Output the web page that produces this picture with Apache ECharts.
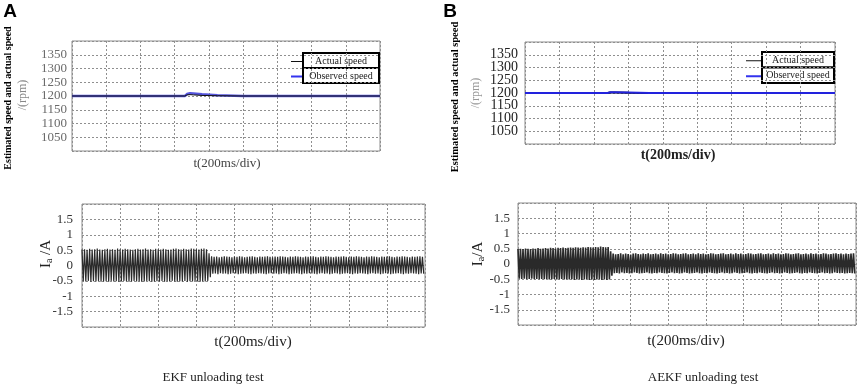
<!DOCTYPE html>
<html>
<head>
<meta charset="utf-8">
<script src="https://cdn.jsdelivr.net/npm/echarts@6/dist/echarts.min.js"></script>
<style>html,body{margin:0;padding:0;background:#fff}#c{width:858px;height:387px}</style>
</head>
<body>
<div id="c"></div>
<script>
// ---- time axis (ms), 9 divisions of 200 ms ----
var timeMin = 0, timeMax = 1800, timeDiv = 200;
var speedTicks = [1050, 1100, 1150, 1200, 1250, 1300, 1350];
var currentTicks = [-1.5, -1, -0.5, 0, 0.5, 1, 1.5];

// ---- speed traces (rpm) ----
var ekfSpeedTime     = [0, 660, 672, 690, 710, 760, 850, 1000, 1800];
var ekfActualSpeed   = [1200, 1200, 1204, 1205, 1204, 1202, 1201, 1200, 1200];
var ekfObservedSpeed = [1200, 1200, 1207, 1210, 1209, 1206, 1203, 1200, 1200];

var aekfSpeedTime     = [0, 480, 495, 520, 600, 720, 1800];
var aekfActualSpeed   = [1200, 1200, 1202, 1202, 1201, 1200, 1200];
var aekfObservedSpeed = [1200, 1200, 1203, 1203, 1202, 1200, 1200];

// ---- phase current Ia (A): positive / negative peak of each cycle (15 cycles per div) ----
var ekfPosPeaks = [
0.52,0.53,0.51,0.54,0.52,0.53,0.55,0.52,0.51,0.53,
0.54,0.52,0.53,0.51,0.55,0.53,0.52,0.54,0.53,0.52,
0.51,0.53,0.54,0.52,0.53,0.55,0.52,0.53,0.51,0.54,
0.53,0.52,0.54,0.53,0.51,0.52,0.54,0.55,0.53,0.52,
0.54,0.53,0.52,0.55,0.54,0.53,0.52,0.54,0.55,0.53,
0.40,
0.30,0.28,0.29,0.27,0.28,0.30,0.29,0.28,0.27,0.29,
0.28,0.30,0.29,0.27,0.28,0.29,0.30,0.28,0.27,0.29,
0.28,0.29,0.30,0.28,0.27,0.29,0.28,0.30,0.29,0.28,
0.27,0.29,0.28,0.30,0.29,0.28,0.27,0.29,0.28,0.29,
0.30,0.28,0.27,0.29,0.28,0.30,0.29,0.28,0.27,0.29,
0.28,0.29,0.30,0.28,0.27,0.29,0.28,0.30,0.29,0.28,
0.27,0.29,0.28,0.30,0.29,0.28,0.27,0.29,0.28,0.29,
0.30,0.28,0.27,0.29,0.28,0.30,0.29,0.28,0.27,0.29,
0.28,0.29,0.30,0.28];
var ekfNegPeaks = [
-0.51,-0.52,-0.50,-0.53,-0.51,-0.52,-0.50,-0.53,-0.52,-0.51,
-0.53,-0.50,-0.52,-0.51,-0.53,-0.52,-0.50,-0.51,-0.53,-0.52,
-0.50,-0.52,-0.51,-0.53,-0.52,-0.50,-0.51,-0.53,-0.52,-0.51,
-0.52,-0.50,-0.53,-0.51,-0.52,-0.50,-0.52,-0.53,-0.51,-0.52,
-0.50,-0.53,-0.51,-0.52,-0.50,-0.52,-0.53,-0.51,-0.52,-0.50,
-0.38,
-0.27,-0.26,-0.28,-0.25,-0.27,-0.26,-0.28,-0.27,-0.25,-0.26,
-0.28,-0.27,-0.26,-0.25,-0.27,-0.28,-0.26,-0.27,-0.25,-0.26,
-0.27,-0.28,-0.26,-0.25,-0.27,-0.26,-0.28,-0.27,-0.25,-0.26,
-0.28,-0.27,-0.26,-0.25,-0.27,-0.28,-0.26,-0.27,-0.25,-0.26,
-0.27,-0.28,-0.26,-0.25,-0.27,-0.26,-0.28,-0.27,-0.25,-0.26,
-0.28,-0.27,-0.26,-0.25,-0.27,-0.28,-0.26,-0.27,-0.25,-0.26,
-0.27,-0.28,-0.26,-0.25,-0.27,-0.26,-0.28,-0.27,-0.25,-0.26,
-0.28,-0.27,-0.26,-0.25,-0.27,-0.28,-0.26,-0.27,-0.25,-0.26,
-0.27,-0.28,-0.26,-0.27];
var aekfPosPeaks = [
0.49,0.50,0.49,0.51,0.50,0.49,0.51,0.50,0.52,0.50,
0.51,0.52,0.51,0.53,0.52,0.51,0.53,0.52,0.54,0.52,
0.53,0.54,0.53,0.55,0.54,0.53,0.55,0.54,0.56,0.55,
0.54,0.56,0.55,0.57,0.56,0.55,0.56,
0.42,
0.34,0.32,0.33,0.35,0.32,0.34,0.33,0.31,0.34,0.35,
0.33,0.32,0.34,0.33,0.35,0.32,0.33,0.34,0.32,0.35,
0.33,0.34,0.32,0.33,0.35,0.34,0.32,0.33,0.34,0.35,
0.32,0.33,0.34,0.32,0.35,0.33,0.34,0.32,0.33,0.35,
0.34,0.32,0.33,0.34,0.35,0.32,0.33,0.34,0.32,0.35,
0.33,0.34,0.32,0.33,0.35,0.34,0.32,0.33,0.34,0.35,
0.32,0.33,0.34,0.32,0.35,0.33,0.34,0.32,0.33,0.35,
0.34,0.32,0.33,0.34,0.35,0.32,0.33,0.34,0.32,0.35,
0.33,0.34,0.32,0.33,0.35,0.34,0.32,0.33,0.34,0.35,
0.33,0.34,0.32,0.34,0.33,0.34,0.35];
var aekfNegPeaks = [
-0.48,-0.49,-0.48,-0.50,-0.49,-0.48,-0.50,-0.49,-0.50,-0.49,
-0.50,-0.49,-0.51,-0.50,-0.49,-0.51,-0.50,-0.49,-0.51,-0.50,
-0.51,-0.50,-0.52,-0.51,-0.50,-0.52,-0.51,-0.50,-0.52,-0.51,
-0.52,-0.51,-0.50,-0.52,-0.51,-0.52,-0.51,
-0.38,
-0.30,-0.29,-0.31,-0.28,-0.30,-0.29,-0.31,-0.30,-0.28,-0.29,
-0.31,-0.30,-0.29,-0.28,-0.30,-0.31,-0.29,-0.30,-0.28,-0.29,
-0.30,-0.31,-0.29,-0.28,-0.30,-0.29,-0.31,-0.30,-0.28,-0.29,
-0.31,-0.30,-0.29,-0.28,-0.30,-0.31,-0.29,-0.30,-0.28,-0.29,
-0.30,-0.31,-0.29,-0.28,-0.30,-0.29,-0.31,-0.30,-0.28,-0.29,
-0.31,-0.30,-0.29,-0.28,-0.30,-0.31,-0.29,-0.30,-0.28,-0.29,
-0.30,-0.31,-0.29,-0.28,-0.30,-0.29,-0.31,-0.30,-0.28,-0.29,
-0.31,-0.30,-0.29,-0.28,-0.30,-0.31,-0.29,-0.30,-0.28,-0.29,
-0.30,-0.31,-0.29,-0.28,-0.30,-0.29,-0.31,-0.30,-0.28,-0.29,
-0.30,-0.29,-0.31,-0.30,-0.29,-0.30,-0.31];

// ---- texts ----
var speedAxisTitle = 'Estimated speed and actual speed';
var speedUnit = '/(rpm)';
var timeTitle = 't(200ms/div)';
var legendNames = ['Actual speed', 'Observed speed'];
var captions = ['EKF unloading test', 'AEKF unloading test'];
var panelLetters = ['A', 'B'];

// ---------------------------------------------------------------
var SERIF = '"Liberation Serif","Times New Roman",serif';

function pairs(t, v) { return t.map(function (x, i) { return [x, v[i]]; }); }
function wave(pos, neg) {
  var n = pos.length, half = (timeMax - timeMin) / (2 * n), out = [];
  for (var i = 0; i < n; i++) {
    out.push([timeMin + (2 * i) * half, pos[i]]);
    out.push([timeMin + (2 * i + 1) * half, neg[i]]);
  }
  return out;
}
function plainNum(v) { return String(v); }

var grids = [
  {left: 72, top: 41, width: 308, height: 110},
  {left: 82, top: 204, width: 343, height: 123},
  {left: 525, top: 42, width: 310, height: 102},
  {left: 518, top: 203, width: 338, height: 122}
];
grids.forEach(function (g) { g.show = true; g.borderColor = '#8c8c8c'; g.borderWidth = 1; g.backgroundColor = '#fff'; });

var dotted = {show: true, lineStyle: {color: '#8f8f8f', width: 1, type: [2, 2]}};

function xAx(i) {
  return {type: 'value', gridIndex: i, min: timeMin, max: timeMax, interval: timeDiv,
    axisLabel: {show: false}, axisTick: {show: false}, axisLine: {show: false}, splitLine: dotted};
}
function yAx(i, min, max, interval, lbl) {
  return {type: 'value', gridIndex: i, min: min, max: max, interval: interval,
    axisTick: {show: false}, axisLine: {show: false}, splitLine: dotted,
    axisLabel: Object.assign({showMinLabel: false, showMaxLabel: false, fontFamily: SERIF, formatter: plainNum}, lbl)};
}

var option = {
  animation: false,
  backgroundColor: '#fff',
  grid: grids,
  xAxis: [xAx(0), xAx(1), xAx(2), xAx(3)],
  yAxis: [
    yAx(0, 1000, 1400, 50, {fontSize: 13, color: '#6a6a6a', margin: 5}),
    yAx(1, -2, 2, 0.5, {fontSize: 13, color: '#333', margin: 9}),
    yAx(2, 1000, 1400, 50, {fontSize: 14, color: '#222', margin: 7}),
    yAx(3, -2, 2, 0.5, {fontSize: 13, color: '#333', margin: 8})
  ],
  series: [
    {type: 'line', name: legendNames[1], xAxisIndex: 0, yAxisIndex: 0, data: pairs(ekfSpeedTime, ekfObservedSpeed),
      showSymbol: false, lineStyle: {color: '#5555dd', width: 2.5}, z: 2},
    {type: 'line', name: legendNames[0], xAxisIndex: 0, yAxisIndex: 0, data: pairs(ekfSpeedTime, ekfActualSpeed),
      showSymbol: false, lineStyle: {color: '#111', width: 1}, z: 3},
    {type: 'line', name: 'Ia EKF', xAxisIndex: 1, yAxisIndex: 1, data: wave(ekfPosPeaks, ekfNegPeaks),
      showSymbol: false, lineStyle: {color: '#2a2a2a', width: 1.2}, z: 2},
    {type: 'line', name: legendNames[0], xAxisIndex: 2, yAxisIndex: 2, data: pairs(aekfSpeedTime, aekfActualSpeed),
      showSymbol: false, lineStyle: {color: '#111', width: 2}, z: 2},
    {type: 'line', name: legendNames[1], xAxisIndex: 2, yAxisIndex: 2, data: pairs(aekfSpeedTime, aekfObservedSpeed),
      showSymbol: false, lineStyle: {color: '#2222dd', width: 2}, z: 3},
    {type: 'line', name: 'Ia AEKF', xAxisIndex: 3, yAxisIndex: 3, data: wave(aekfPosPeaks, aekfNegPeaks),
      showSymbol: false, lineStyle: {color: '#2a2a2a', width: 1.6}, z: 2}
  ],
  graphic: []
};

function txt(x, y, text, style, rot) {
  return {type: 'text', x: x, y: y, rotation: rot || 0, silent: true,
    style: Object.assign({text: text, align: 'center', verticalAlign: 'middle', fill: '#222', fontFamily: SERIF}, style)};
}
function legendBox(x0, y0, w, h, symX) {
  var items = [];
  for (var k = 0; k < 2; k++) {
    items.push({type: 'rect', silent: true, shape: {x: x0, y: y0 + k * h, width: w, height: h},
      style: {fill: '#fff', stroke: '#000', lineWidth: 2}});
    items.push(txt(x0 + w / 2, y0 + k * h + h / 2 + 0.5, legendNames[k], {fontSize: 10, fill: '#222'}));
    items.push({type: 'line', silent: true, shape: {x1: symX, y1: y0 + k * h + h / 2 + 1, x2: x0 - 1, y2: y0 + k * h + h / 2 + 1},
      style: {stroke: k === 0 ? '#111' : '#3333ee', lineWidth: k === 0 ? 1 : 2}});
  }
  return items;
}
var R = Math.PI / 2;
option.graphic = [].concat(
  [txt(10, 12, panelLetters[0], {fontFamily: '"Liberation Sans",Arial,sans-serif', fontWeight: 'bold', fontSize: 19, fill: '#000'}),
   txt(450, 12, panelLetters[1], {fontFamily: '"Liberation Sans",Arial,sans-serif', fontWeight: 'bold', fontSize: 19, fill: '#000'}),
   txt(8, 98, speedAxisTitle, {fontSize: 10, fontWeight: 'bold', fill: '#000'}, R),
   txt(23, 95, speedUnit, {fontSize: 12, fill: '#888'}, R),
   txt(455, 97, speedAxisTitle, {fontSize: 10.5, fontWeight: 'bold', fill: '#000'}, R),
   txt(476, 93, speedUnit, {fontSize: 12, fill: '#999'}, R),
   {type: 'text', x: 46, y: 254, rotation: R, silent: true, style: {
     text: '{i|I}{s|a}{i| /A}', align: 'center', verticalAlign: 'middle',
     rich: {i: {fontFamily: SERIF, fontSize: 15, fill: '#222'}, s: {fontFamily: SERIF, fontSize: 10, fill: '#222', padding: [7, 0, 0, 0]}}}},
   {type: 'text', x: 478, y: 254, rotation: R, silent: true, style: {
     text: '{i|I}{s|a}{i|/A}', align: 'center', verticalAlign: 'middle',
     rich: {i: {fontFamily: SERIF, fontSize: 15, fill: '#222'}, s: {fontFamily: SERIF, fontSize: 10, fill: '#222', padding: [7, 0, 0, 0]}}}},
   txt(227, 164, timeTitle, {fontSize: 13, fill: '#444'}),
   txt(253, 342, timeTitle, {fontSize: 15, fill: '#222'}),
   txt(678, 155, timeTitle, {fontSize: 14, fontWeight: 'bold', fill: '#222'}),
   txt(686, 341, timeTitle, {fontSize: 15, fill: '#222'}),
   txt(213, 378, captions[0], {fontSize: 13, fill: '#222'}),
   txt(703, 378, captions[1], {fontSize: 13, fill: '#222'})
  ],
  legendBox(303, 53, 76, 15, 291),
  legendBox(762, 52, 72, 15.5, 746)
);

var chart = echarts.init(document.getElementById('c'), null, {renderer: 'canvas'});
chart.setOption(option);
</script>
</body>
</html>
